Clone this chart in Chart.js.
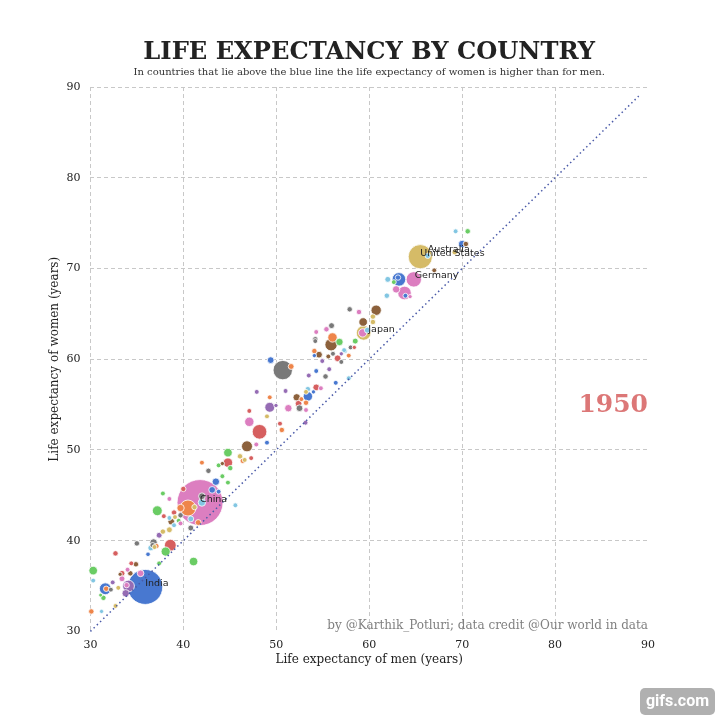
<!DOCTYPE html>
<html><head><meta charset="utf-8">
<style>html,body{margin:0;padding:0;background:#fff}canvas{display:block}</style>
<script src="https://cdn.jsdelivr.net/npm/chart.js@4"></script></head>
<body><canvas id="c" width="720" height="720"></canvas>
<script>
// [men's life expectancy, women's life expectancy, population]
const blue = [[35.9,34.9,282],[31.6,34.7,27],[36.2,38.5,2.5],[43.1,45.6,7],[43.8,45.4,3],[43.5,46.5,9],[49.4,59.9,7],[49.0,50.8,3],[53.4,55.9,16],[54.0,56.4,2],[54.3,58.7,3],[56.4,57.4,3],[54.1,60.4,2],[63.2,68.8,37],[63.1,69.0,4],[63.9,67.0,3],[70.0,72.7,9]];
const orange = [[31.7,34.7,4],[30.1,32.2,4],[37.1,39.4,4],[41.6,42.0,5],[40.5,43.6,53],[39.7,43.6,9],[42.0,48.6,3],[46.4,48.8,4],[49.3,55.8,3],[51.6,59.2,5],[50.6,52.2,4],[52.7,55.6,3],[53.2,55.2,4],[54.1,60.9,4],[57.8,60.4,3],[56.05,62.4,16]];
const green = [[31.4,33.7,4],[31.1,34.0,1.5],[30.3,36.7,13],[38.1,38.8,15],[37.4,37.5,3],[41.1,37.7,13],[39.5,42.2,3],[37.2,43.3,18],[37.8,45.2,3],[44.8,46.4,3],[44.2,47.1,3],[43.8,48.3,3],[44.8,49.7,13],[45.05,48.0,4],[56.8,61.9,9],[58.5,62.0,5],[62.65,68.5,3],[70.6,74.1,4]];
const red = [[33.4,36.4,5],[34.4,37.5,3],[32.7,38.6,4],[38.6,39.5,27],[37.9,42.7,3],[39.0,43.1,4],[40.0,45.7,4],[44.8,48.6,16],[47.1,54.3,3],[50.4,52.9,3],[48.2,52.0,44],[47.3,49.1,3],[52.4,55.1,7],[54.3,56.9,7],[56.6,60.1,7],[58.4,61.3,2]];
const purple = [[34.1,35.0,27],[33.8,34.2,9],[32.4,35.4,3],[37.4,40.6,5],[47.9,56.4,3],[51.0,56.5,3],[49.3,54.7,18],[49.97,54.9,2],[53.15,53.0,3],[53.5,58.2,3],[55.7,58.9,3],[54.95,59.8,3],[57.0,60.6,2]];
const brown = [[33.2,36.3,2],[34.3,36.4,4],[34.9,37.4,4],[38.7,42.1,7],[44.2,48.5,2],[46.85,50.4,23],[52.2,55.8,9],[55.9,61.6,30],[54.6,60.5,7],[55.6,60.3,3],[60.75,65.4,20],[59.35,64.1,13],[67.0,69.8,3],[70.4,72.7,4]];
const pink = [[41.8,44.2,497],[35.4,36.4,7],[33.9,35.1,4],[33.4,35.8,5],[34.0,36.8,3],[39.7,41.9,3],[38.5,44.6,3],[51.3,54.6,9],[47.1,53.1,16],[47.85,50.6,3],[53.2,54.4,3],[54.8,56.8,3],[64.8,68.8,49],[62.9,67.7,9],[63.8,67.3,37],[64.4,66.9,2],[58.9,65.2,4],[55.4,63.3,4],[54.3,63.0,3],[59.3,62.9,12]];
const grey = [[32.2,34.6,3],[35.0,39.7,4],[36.8,39.8,9],[36.7,39.5,4],[39.7,42.8,4],[40.8,41.4,5],[42.0,44.9,7],[42.7,47.7,4],[50.7,58.8,81],[52.5,54.6,7],[55.3,58.1,4],[56.1,60.6,3],[57.0,59.7,3],[58.0,61.3,3],[54.2,62.0,3],[57.9,65.5,4],[55.95,63.7,5],[54.2,62.2,4]];
const yellow = [[33.0,34.8,3],[32.7,32.8,3],[36.9,39.3,3],[37.8,41.0,4],[38.5,41.2,5],[39.1,42.6,3],[41.2,43.7,4],[46.1,49.3,4],[49.0,53.7,3],[53.2,56.4,3],[46.6,48.9,3],[60.4,64.7,4],[60.4,64.1,4],[59.4,62.9,44],[65.5,71.3,130],[69.2,71.8,4]];
const cyan = [[31.2,32.2,2],[30.3,35.6,3],[36.5,39.2,5],[39.0,41.7,3],[38.5,42.5,3],[40.8,42.4,5],[42.0,44.2,9],[45.6,43.9,3],[53.4,56.7,4],[57.8,57.9,3],[57.4,60.9,3],[62.0,68.8,5],[61.9,67.0,4],[59.8,63.2,5],[57.3,61.0,3],[69.3,74.1,3],[66.3,71.4,4]];
const labelled = [["India",35.9,34.9],["China",41.8,44.2],["Japan",59.9,62.9],["Germany",64.9,68.9],["United States",65.5,71.3],["Australia",66.3,71.75]];
const parityX = [30,89];
const parityY = [30,89];
const ticksAll = [30,40,50,60,70,80,90];
const yearLabel = "1950";
const titleText = "LIFE EXPECTANCY BY COUNTRY";
const subtitleText = "In countries that lie above the blue line the life expectancy of women is higher than for men.";
const creditText = "by @Karthik_Potluri; data credit @Our world in data";

const groups = [[blue,'#4878d0'],[orange,'#ee854a'],[green,'#6acc64'],[red,'#d65f5f'],[purple,'#956cb4'],[brown,'#8c613c'],[pink,'#dc7ec0'],[grey,'#797979'],[yellow,'#d5bb67'],[cyan,'#82c6e2']];
const points = [];
groups.forEach(([list,col])=>list.forEach(p=>points.push({x:p[0],y:p[1],r:Math.sqrt(p[2])+0.7,col})));
points.sort((a,b)=>b.r-a.r);

const serif = "'DejaVu Serif'";
const overlay = {
  id:'overlay',
  afterDatasetsDraw(chart){
    const {ctx,scales:{x,y},chartArea:a} = chart;
    ctx.save();
    ctx.textBaseline='middle'; ctx.textAlign='left';
    ctx.fillStyle='#222'; ctx.font="9.5px 'DejaVu Sans'";
    labelled.forEach(([t,vx,vy])=>{ctx.fillText(t,x.getPixelForValue(vx),y.getPixelForValue(vy)-3);});
    ctx.textAlign='right';
    ctx.fillStyle='rgba(214,95,95,0.85)'; ctx.font="bold 25px "+serif;
    ctx.fillText(yearLabel,a.right,405);
    ctx.fillStyle='#808080'; ctx.font="12px "+serif;
    ctx.fillText(creditText,a.right,626);
    ctx.fillStyle='#b0b0b0';
    ctx.beginPath(); ctx.roundRect(640,688,75,27,5); ctx.fill();
    ctx.fillStyle='#fff'; ctx.textAlign='center'; ctx.font="bold 16px Roboto";
    ctx.fillText('gifs.com',677.5,702);
    ctx.restore();
  }
};

new Chart(document.getElementById('c'),{
  type:'bubble',
  plugins:[overlay],
  data:{datasets:[
    {type:'line',data:parityX.map((v,i)=>({x:v,y:parityY[i]})),borderColor:'#4a5aa8',borderWidth:1.5,borderDash:[1.5,3],pointRadius:0,fill:false,order:0,clip:false},
    {type:'bubble',data:points,backgroundColor:points.map(p=>p.col),borderColor:'#fff',borderWidth:0.8,order:1,clip:false}
  ]},
  options:{
    responsive:false,animation:false,devicePixelRatio:1,
    layout:{padding:{left:48,right:72,top:38,bottom:53}},
    plugins:{
      legend:{display:false},tooltip:{enabled:false},
      title:{display:true,text:titleText,color:'#222',font:{family:serif,size:24.2,weight:'bold'},padding:{top:0,bottom:-1},fullSize:false},
      subtitle:{display:true,text:subtitleText,color:'#333',font:{family:serif,size:10},padding:{top:0,bottom:9},fullSize:false}
    },
    scales:{
      x:{type:'linear',min:30,max:90,
        afterBuildTicks(s){s.ticks=ticksAll.map(v=>({value:v}));},
        grid:{color:c=>c.tick&&c.tick.value===90?'rgba(0,0,0,0)':'#c8c8c8',lineWidth:1,drawTicks:false},
        border:{display:false,dash:[4,3]},
        ticks:{color:'#222',font:{family:serif,size:11},padding:7,maxRotation:0,autoSkip:false},
        title:{display:true,text:'Life expectancy of men (years)',color:'#222',font:{family:serif,size:12},padding:{top:-6,bottom:0}}
      },
      y:{type:'linear',min:30,max:90,
        afterBuildTicks(s){s.ticks=ticksAll.map(v=>({value:v}));},
        grid:{color:c=>c.tick&&c.tick.value===30?'rgba(0,0,0,0)':'#c8c8c8',lineWidth:1,drawTicks:false},
        border:{display:false,dash:[4,3]},
        ticks:{color:'#222',font:{family:serif,size:11},padding:10,autoSkip:false},
        title:{display:true,text:'Life expectancy of women (years)',color:'#222',font:{family:serif,size:12},padding:{top:0,bottom:-6}}
      }
    }
  }
});
</script></body></html>
